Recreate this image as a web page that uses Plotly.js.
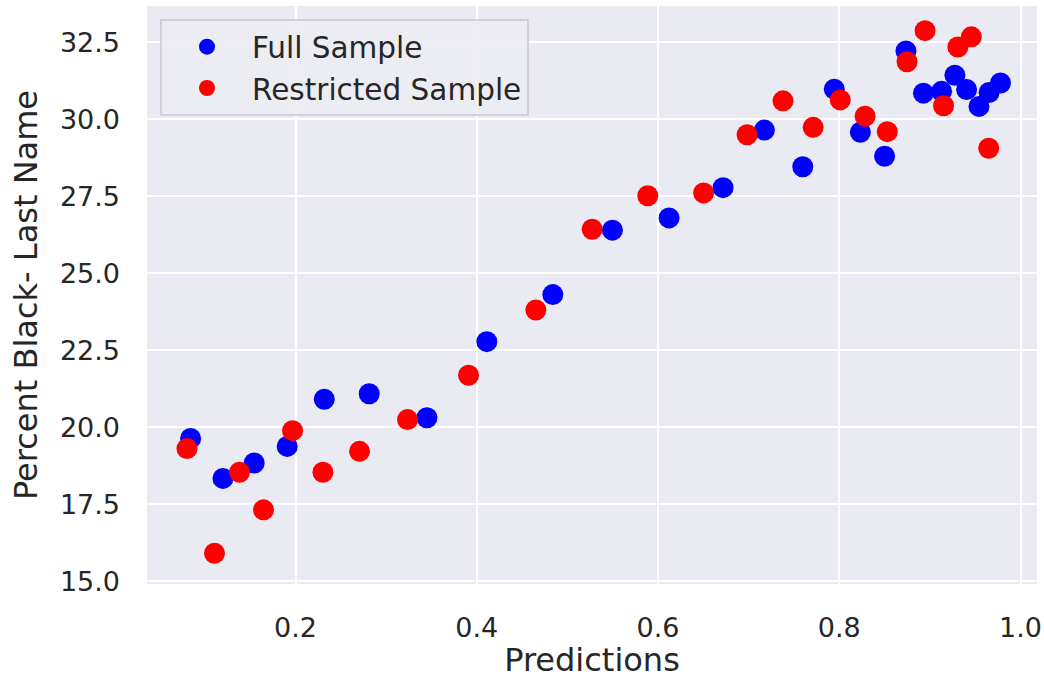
<!DOCTYPE html>
<html>
<head>
<meta charset="utf-8">
<script src="https://cdn.plot.ly/plotly-3.0.1.min.js"></script>
<style>
html,body{margin:0;padding:0;background:#ffffff;}
#chart{width:1044px;height:679px;}
</style>
</head>
<body>
<div id="chart"></div>
<script>
// Full Sample
const fullX = [0.0842,0.1199,0.1544,0.1908,0.2317,0.2813,0.3450,0.4111,0.4839,0.5497,0.6122,0.6718,0.7174,0.7597,0.7945,0.8233,0.8500,0.8736,0.8929,0.9129,0.9276,0.9405,0.9542,0.9653,0.9779];
const fullY = [19.64,18.34,18.84,19.38,20.91,21.09,20.31,22.78,24.31,26.40,26.80,27.78,29.65,28.46,30.98,29.58,28.80,32.22,30.85,30.91,31.43,30.97,30.42,30.87,31.18];
// Restricted Sample
const restX = [0.0802,0.1106,0.1382,0.1647,0.1967,0.2302,0.2706,0.3236,0.3909,0.4652,0.5273,0.5887,0.6503,0.6983,0.7379,0.7712,0.8011,0.8285,0.8530,0.8748,0.8947,0.9151,0.9309,0.9457,0.9649];
const restY = [19.31,15.91,18.54,17.32,19.89,18.54,19.22,20.25,21.69,23.81,26.43,27.52,27.61,29.50,30.60,29.74,30.63,30.10,29.60,31.87,32.88,30.44,32.35,32.68,29.06];
const seriesNames = ["Full Sample", "Restricted Sample"];
const xTicks = [0.2,0.4,0.6,0.8,1.0];
const yTicks = [15.0,17.5,20.0,22.5,25.0,27.5,30.0,32.5];

const fontFam = "DejaVu Sans, sans-serif";
const textCol = "#262626";

const traces = [
  {x: fullX, y: fullY, name: seriesNames[0], type: "scatter", mode: "markers",
   marker: {color: "#0000ff", size: 21, line: {width: 0}}},
  {x: restX, y: restY, name: seriesNames[1], type: "scatter", mode: "markers",
   marker: {color: "#ff0000", size: 21, line: {width: 0}}}
];

const layout = {
  width: 1044, height: 679,
  paper_bgcolor: "#ffffff",
  plot_bgcolor: "#EAEAF2",
  margin: {l: 147, r: 7, t: 6, b: 95},
  font: {family: fontFam, color: textCol, size: 27},
  showlegend: true,
  legend: {
    x: 0.0146, y: 0.9775, xanchor: "left", yanchor: "top",
    bgcolor: "rgba(236,236,243,0.9)", bordercolor: "#d0d0d6", borderwidth: 2,
    font: {family: fontFam, size: 29.5, color: textCol},
    itemwidth: 80, tracegroupgap: 0
  },
  xaxis: {
    range: [0.0361, 1.0182],
    tickvals: xTicks, ticktext: xTicks.map(v => v.toFixed(1)),
    showgrid: true, gridcolor: "#ffffff", gridwidth: 2,
    zeroline: false, showline: false, ticks: "",
    ticklabelstandoff: 25,
    tickfont: {family: fontFam, size: 27, color: textCol},
    title: {text: "Predictions", font: {family: fontFam, size: 32, color: textCol}, standoff: 11}
  },
  yaxis: {
    range: [14.912, 33.68],
    tickvals: yTicks, ticktext: yTicks.map(v => v.toFixed(1)),
    showgrid: true, gridcolor: "#ffffff", gridwidth: 2,
    zeroline: false, showline: false, ticks: "",
    ticklabelstandoff: 26,
    tickfont: {family: fontFam, size: 27, color: textCol},
    title: {text: "Percent Black- Last Name", font: {family: fontFam, size: 32, color: textCol}, standoff: 12}
  }
};

Plotly.newPlot("chart", traces, layout, {displayModeBar: false, staticPlot: true});
</script>
</body>
</html>
